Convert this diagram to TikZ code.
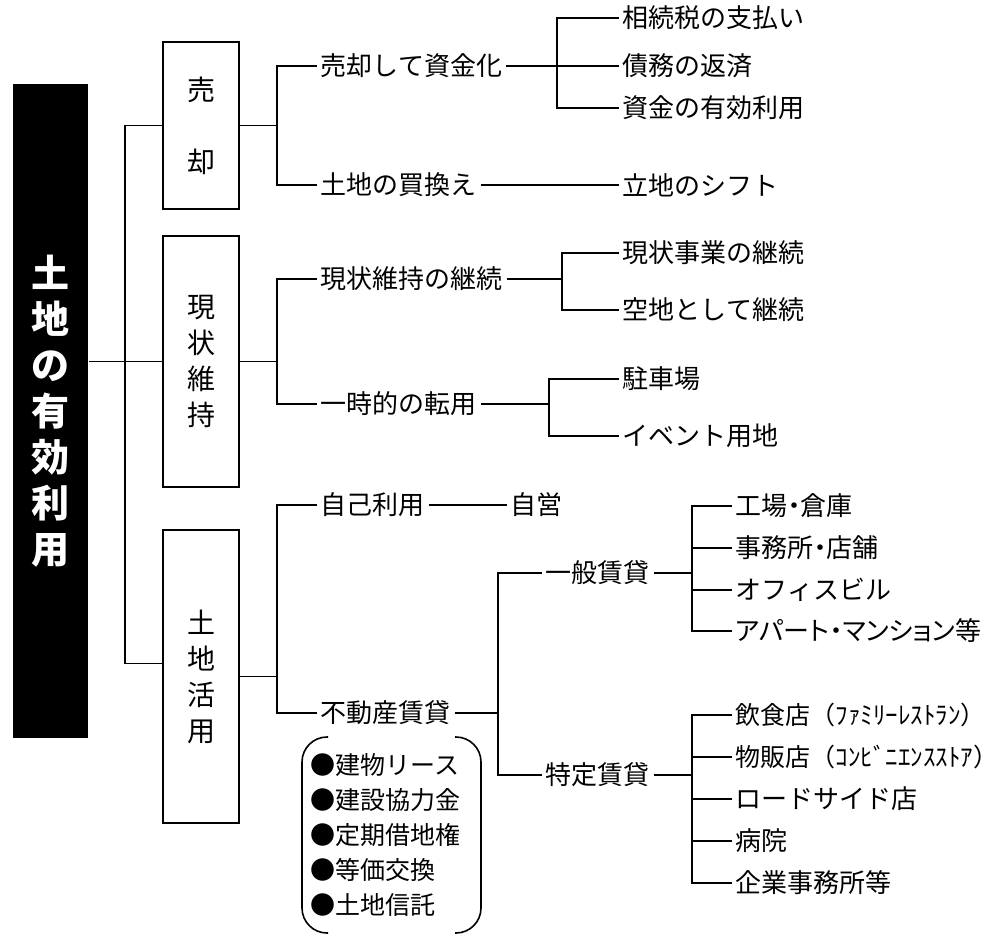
\documentclass[tikz,border=0pt]{standalone}
\usepackage{fontspec}
\setmainfont{Noto Sans CJK JP}
\newcommand\lblsize{\fontsize{26}{30}\selectfont}
\newcommand\smallsize{\fontsize{25}{30}\selectfont}
\newcommand\prop{\addfontfeatures{RawFeature=+palt}}
\tikzset{
  lbl/.style={anchor=west, inner xsep=3pt, inner ysep=0pt, font=\lblsize},
  catbox/.style={draw, minimum width=76pt, inner sep=0pt, align=center,
    font=\fontsize{28}{36}\selectfont},
}
\begin{document}
\begin{tikzpicture}[x=1pt,y=-1pt,line width=1.6pt]
  \useasboundingbox (0,0) rectangle (1000,950);
  % root and the three boxes
  \node [fill=black,text=white,minimum width=75pt,minimum height=654pt,align=center,
    font=\fontsize{38}{46}\selectfont\bfseries] (A0_0) at (50.5,411) {土\\地\\の\\有\\効\\利\\用};
  \node [catbox,minimum height=167pt] (A1_1) at (201,125.5) {売\\[36pt]却};
  \node [catbox,minimum height=251pt] (A1_2) at (201,361.5) {現\\状\\維\\持};
  \node [catbox,minimum height=293pt] (A1_3) at (201,676.5) {土\\地\\活\\用};
  % second level
  \node [lbl] (A2_1) at (317,66) {売却して資金化};
  \node [lbl] (A2_2) at (317,185) {土地の買換え};
  \node [lbl] (A2_3) at (317,279) {現状維持の継続};
  \node [lbl] (A2_4) at (317,404) {一時的の転用};
  \node [lbl] (A2_5) at (317,505) {自己利用};
  \node [lbl] (A2_6) at (317,713) {不動産賃貸};
  % third level
  \node [lbl] (A3_1) at (619,18) {相続税の支払い};
  \node [lbl] (A3_2) at (619,66) {債務の返済};
  \node [lbl] (A3_3) at (619,108) {資金の有効利用};
  \node [lbl] (A3_4) at (619,185) {立地のシフト};
  \node [lbl] (A3_5) at (619,253) {現状事業の継続};
  \node [lbl] (A3_6) at (619,310) {空地として継続};
  \node [lbl] (A3_7) at (619,379) {駐車場};
  \node [lbl] (A3_8) at (619,436) {イベント用地};
  \node [lbl] (A3_9) at (507,505) {自営};
  \node [lbl] (A3_10) at (542,573) {一般賃貸};
  \node [lbl] (A3_11) at (542,775) {特定賃貸};
  % fourth level
  \node [lbl] (A4_1) at (732,506) {工場{\prop ・}倉庫};
  \node [lbl] (A4_2) at (732,548) {事務所{\prop ・}店舗};
  \node [lbl] (A4_3) at (732,590) {オフィスビル};
  \node [lbl] (A4_4) at (732,631) {\prop アパート・マンション等};
  \node [lbl,font=\smallsize] (A4_5) at (732,715) {飲食店（ﾌｧﾐﾘｰﾚｽﾄﾗﾝ）};
  \node [lbl,font=\smallsize] (A4_6) at (732,757) {物販店（ｺﾝﾋﾞﾆｴﾝｽｽﾄｱ）};
  \node [lbl] (A4_7) at (732,799) {ロードサイド店};
  \node [lbl] (A4_8) at (732,841) {病院};
  \node [lbl] (A4_9) at (732,883) {企業事務所等};
  % list in brackets
  \node [lbl,align=left,font=\fontsize{25}{35}\selectfont] (A5_1) at (307,835)
    {●建物リース\\●建設協力金\\●定期借地権\\●等価交換\\●土地信託};
  \draw [rounded corners=25pt] (328,737) -- (302,737) -- (302,933) -- (328,933);
  \draw [rounded corners=25pt] (455,737) -- (481,737) -- (481,933) -- (455,933);
  % connectors
  \draw (A1_1.west) -- ++(-37,0) coordinate (T) |- ([yshift=13pt]A1_3.west);
  \draw (A0_0.east |- A1_2.west) -- (A1_2.west);
  \draw (A2_1.west) -- ++(-40,0) coordinate (S) |- (A2_2.west);
  \draw (A1_1.east) -- (A1_1.east -| S);
  \draw (A2_3.west) -- ++(-40,0) coordinate (K) |- (A2_4.west);
  \draw (A1_2.east) -- (A1_2.east -| K);
  \draw (A2_5.west) -- ++(-40,0) coordinate (U) |- (A2_6.west);
  \draw (A1_3.east) -- (A1_3.east -| U);
  \draw (A3_1.west) -- ++(-62,0) |- (A3_3.west);
  \draw (A2_1.east) -- (A3_2.west);
  \draw (A2_2.east) -- (A3_4.west);
  \draw (A3_5.west) -- ++(-57,0) coordinate (K1) |- (A3_6.west);
  \draw (A2_3.east) -- (A2_3.east -| K1);
  \draw (A3_7.west) -- ++(-70,0) coordinate (K2) |- (A3_8.west);
  \draw (A2_4.east) -- (A2_4.east -| K2);
  \draw (A2_5.east) -- (A3_9.west);
  \draw (A3_10.west) -- ++(-44,0) coordinate (R) |- (A3_11.west);
  \draw (A2_6.east) -- (A2_6.east -| R);
  \draw (A4_1.west) -- ++(-40,0) coordinate (G) |- (A4_4.west);
  \draw (A3_10.east) -- (A3_10.east -| G);
  \draw (A4_5.west) -- ++(-40,0) coordinate (H) |- (A4_9.west);
  \draw (A3_11.east) -- (A3_11.east -| H);
  \foreach \i in {2,3} \draw (A4_\i.west) -- (A4_\i.west -| G);
  \foreach \i in {6,7,8} \draw (A4_\i.west) -- (A4_\i.west -| H);
\end{tikzpicture}
\end{document}
